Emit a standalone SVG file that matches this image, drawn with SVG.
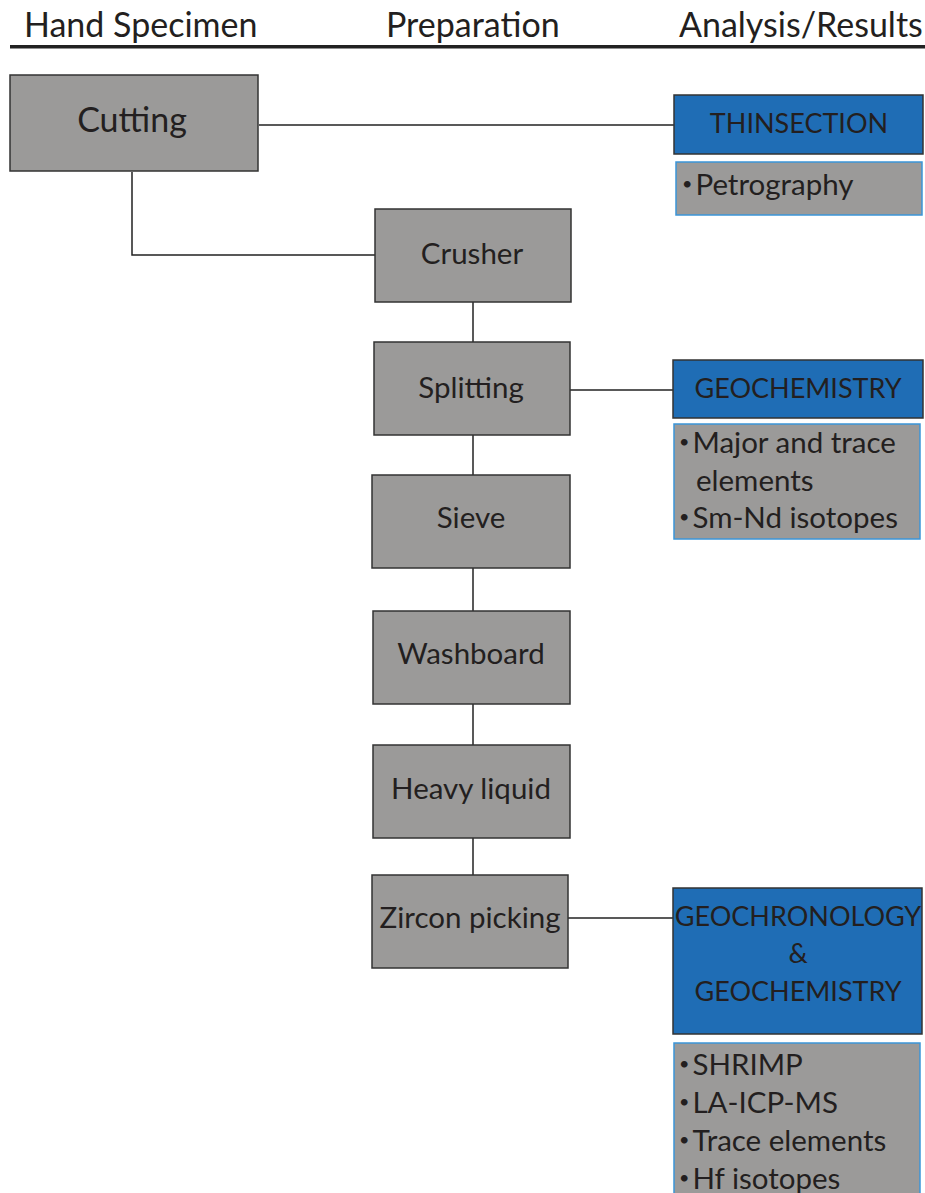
<svg xmlns="http://www.w3.org/2000/svg" width="925" height="1193" viewBox="0 0 925 1193">
<style>
text{font-family:Lato,"Open Sans","Liberation Sans",sans-serif;fill:#231f20}
.hdr{font-size:34px}
.step{fill:#9b9a99;stroke:#333;stroke-width:1.5}
.res{fill:#1f6db5;stroke:#333;stroke-width:1.5}
.det{fill:#9b9a99;stroke:#3b95d8;stroke-width:1.5}
.lbl{font-size:29.5px;text-anchor:middle}
.rl{font-size:27px;text-anchor:middle}
.dl{font-size:29.5px}
.b{font-size:18px}
.conn{stroke:#222;stroke-width:1.5;fill:none}
</style>
<rect width="925" height="1193" fill="#fff"/>
<g id="header">
<text class="hdr" x="24" y="37">Hand Specimen</text>
<text class="hdr" x="386" y="37">Preparation</text>
<text class="hdr" x="679" y="37">Analysis/Results</text>
<rect x="10" y="45" width="915" height="3.5" fill="#222"/>
</g>
<g id="connectors">
<path class="conn" d="M259 125H674"/>
<path class="conn" d="M132 172V255H375"/>
<path class="conn" d="M473 302V342"/>
<path class="conn" d="M570 390H673"/>
<path class="conn" d="M473 435V475"/>
<path class="conn" d="M473 568V611"/>
<path class="conn" d="M473 704V745"/>
<path class="conn" d="M473 838V875"/>
<path class="conn" d="M568 918H673"/>
</g>
<g id="cutting"><rect class="step" x="10" y="75" width="248" height="96"/><text class="lbl" x="132" y="132" style="font-size:34px">Cutting</text></g>
<g id="thinsection"><rect class="res" x="674" y="95" width="249" height="59"/><text class="rl" x="799" y="133">THINSECTION</text></g>
<g id="petrography"><rect class="det" x="676" y="162" width="246" height="53"/><text class="dl" x="682" y="195"><tspan class="b" dy="-5">•</tspan><tspan dx="3" dy="5">Petrography</tspan></text></g>
<g id="crusher"><rect class="step" x="375" y="209" width="196" height="93"/><text class="lbl" x="472" y="264">Crusher</text></g>
<g id="splitting"><rect class="step" x="374" y="342" width="196" height="93"/><text class="lbl" x="471" y="398">Splitting</text></g>
<g id="geochemistry"><rect class="res" x="673" y="360" width="250" height="58"/><text class="rl" x="798" y="398">GEOCHEMISTRY</text></g>
<g id="geochem-details"><rect class="det" x="674" y="424" width="246" height="115"/>
<text class="dl" x="679" y="453"><tspan class="b" dy="-5">•</tspan><tspan dx="3" dy="5">Major and trace</tspan></text>
<text class="dl" x="696" y="491">elements</text>
<text class="dl" x="679" y="528"><tspan class="b" dy="-5">•</tspan><tspan dx="3" dy="5">Sm-Nd isotopes</tspan></text></g>
<g id="sieve"><rect class="step" x="372" y="475" width="198" height="93"/><text class="lbl" x="471" y="528">Sieve</text></g>
<g id="washboard"><rect class="step" x="373" y="611" width="197" height="93"/><text class="lbl" x="471" y="664">Washboard</text></g>
<g id="heavyliquid"><rect class="step" x="373" y="745" width="197" height="93"/><text class="lbl" x="471" y="799">Heavy liquid</text></g>
<g id="zircon"><rect class="step" x="372" y="875" width="196" height="93"/><text class="lbl" x="470" y="928">Zircon picking</text></g>
<g id="geochronology"><rect class="res" x="673" y="888" width="249" height="146"/>
<text class="rl" x="798" y="926">GEOCHRONOLOGY</text>
<text class="rl" x="798" y="963">&amp;</text>
<text class="rl" x="798" y="1001">GEOCHEMISTRY</text></g>
<g id="zircon-details"><rect class="det" x="674" y="1043" width="246" height="160"/>
<text class="dl" x="679" y="1075"><tspan class="b" dy="-5">•</tspan><tspan dx="3" dy="5">SHRIMP</tspan></text>
<text class="dl" x="679" y="1113"><tspan class="b" dy="-5">•</tspan><tspan dx="3" dy="5">LA-ICP-MS</tspan></text>
<text class="dl" x="679" y="1151"><tspan class="b" dy="-5">•</tspan><tspan dx="3" dy="5">Trace elements</tspan></text>
<text class="dl" x="679" y="1189"><tspan class="b" dy="-5">•</tspan><tspan dx="3" dy="5">Hf isotopes</tspan></text></g>
</svg>
